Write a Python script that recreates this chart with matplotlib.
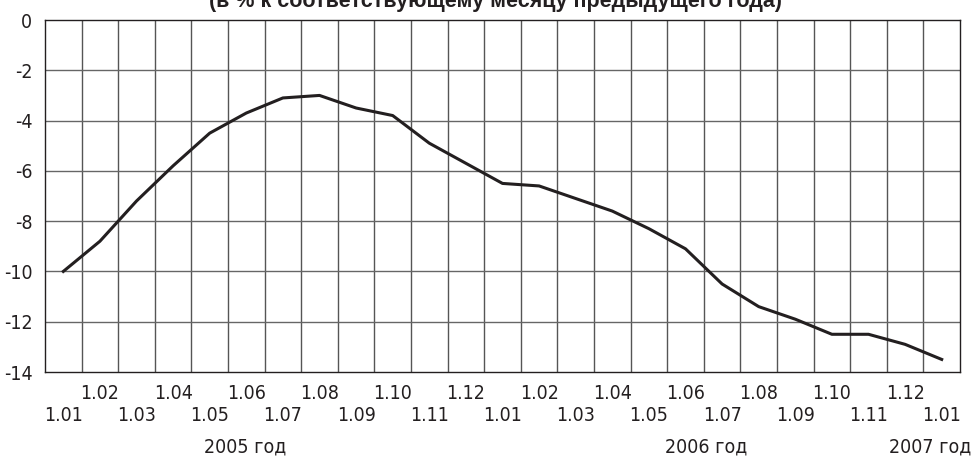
import numpy as np
import matplotlib
matplotlib.use('Agg')
import matplotlib.pyplot as plt

# monthly values, % to same month of previous year
months = ['1.01', '1.02', '1.03', '1.04', '1.05', '1.06', '1.07', '1.08', '1.09', '1.10', '1.11', '1.12',
          '1.01', '1.02', '1.03', '1.04', '1.05', '1.06', '1.07', '1.08', '1.09', '1.10', '1.11', '1.12',
          '1.01']
values = [-10.0, -8.8, -7.2, -5.8, -4.5, -3.7, -3.1, -3.0, -3.5, -3.8, -4.9, -5.7,
          -6.5, -6.6, -7.1, -7.6, -8.3, -9.1, -10.5, -11.4, -11.9, -12.5, -12.5, -12.9,
          -13.5]
years = ['2005 год', '2006 год', '2007 год']
y_ticks = [0, -2, -4, -6, -8, -10, -12, -14]
title = '(в % к соответствующему месяцу предыдущего года)'

matplotlib.rcParams['font.family'] = ['DejaVu Sans']
matplotlib.rcParams['font.stretch'] = 'condensed'
lab = dict(fontsize=14, color='#231f20', stretch='condensed')

fig = plt.figure(figsize=(9.72, 4.66), dpi=100)
W, H = 972.0, 466.0
axis = fig.add_axes([45 / W, 1 - 372 / H, (960 - 45) / W, (372 - 20) / H])

n = len(values)
x = np.arange(n) + 0.5
axis.plot(x, values, '-', color='#231f20', linewidth=2.2, zorder=3)

axis.set_xlim(0, n)
axis.set_ylim(-14, 0)

# grid: one column per month, rows every 2
for xv in range(1, n):
    axis.axvline(xv, color='#555555', linewidth=1.0, zorder=1)
for yv in y_ticks[1:-1]:
    axis.axhline(yv, color='#666666', linewidth=1.0, zorder=1)

for sp in axis.spines.values():
    sp.set_color('#231f20')
    sp.set_linewidth(1.0)

axis.set_yticks(y_ticks)
axis.set_yticklabels([str(v) for v in y_ticks], **lab)
axis.tick_params(axis='y', length=0, pad=9)
axis.set_xticks([])

# staggered month labels
for i, m in enumerate(months):
    if i % 2 == 0:
        yy = -14 - 1.72
    else:
        yy = -14 - 0.85
    axis.text(x[i], yy, m, ha='center', va='center', clip_on=False, **lab)

# year labels
axis.text(5.46, -14 - 3.0, years[0], ha='center', va='center', clip_on=False, **lab)
axis.text(18.06, -14 - 3.0, years[1], ha='center', va='center', clip_on=False, **lab)
axis.text(25.3, -14 - 3.0, years[2], ha='right', va='center', clip_on=False, **lab)

# title, cut by the top edge as in the original
fig.text(495 / W, 1 - 7 / H, title, ha='center', va='baseline', fontsize=15.5,
         fontweight='bold', family=['Liberation Sans', 'DejaVu Sans'], stretch='normal',
         color='#231f20')

fig.savefig('out.png', dpi=100)
